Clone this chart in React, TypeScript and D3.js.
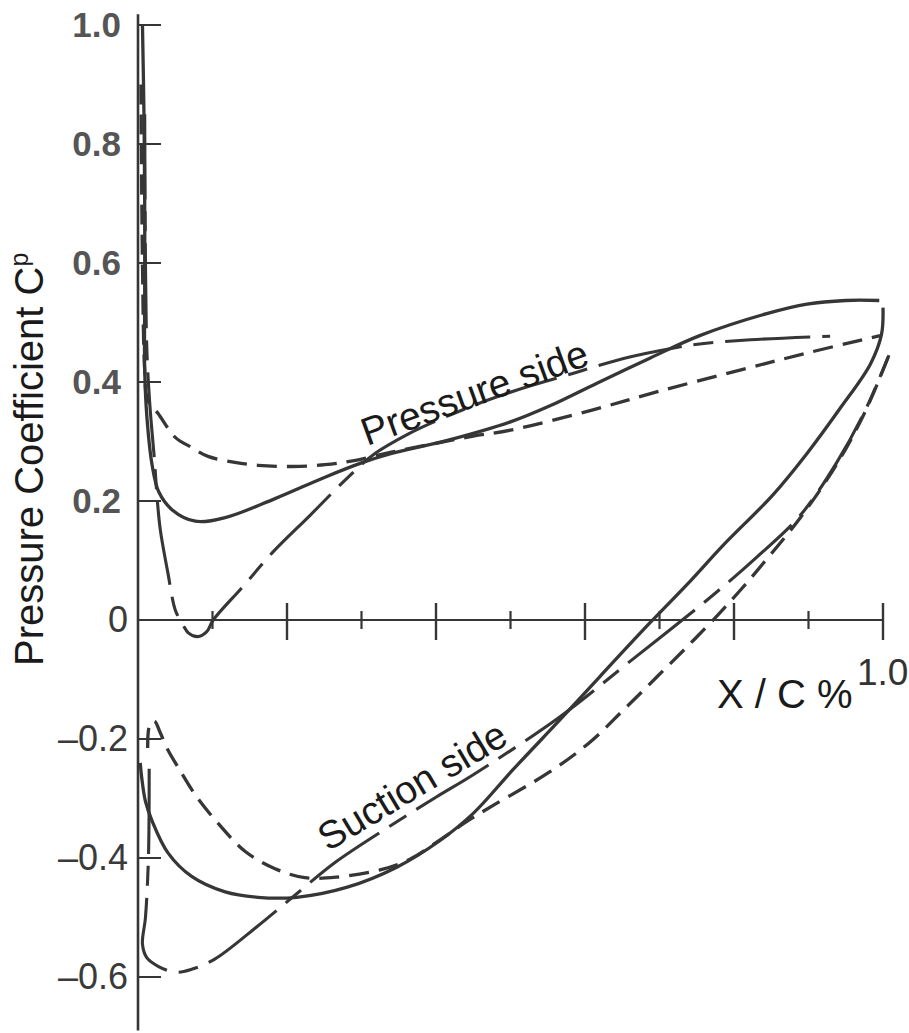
import React from "react";
import * as d3 from "d3";

type P = [number, number];

// Pressure side, design condition (solid)
const solidPressure: P[] = [
  [0.006, 1.0], [0.008, 0.85], [0.009, 0.7], [0.009, 0.55], [0.009, 0.42], [0.012, 0.34],
  [0.019, 0.26], [0.028, 0.215], [0.046, 0.185], [0.077, 0.166], [0.117, 0.172], [0.184, 0.204],
  [0.251, 0.24], [0.3, 0.264], [0.338, 0.279], [0.419, 0.303], [0.5, 0.333], [0.553, 0.36],
  [0.616, 0.398], [0.687, 0.44], [0.754, 0.478], [0.844, 0.515], [0.898, 0.531], [0.95, 0.537],
  [0.995, 0.537],
];
// Suction side, design condition (solid)
const solidSuction: P[] = [
  [0.003, -0.24], [0.005, -0.265], [0.01, -0.305], [0.019, -0.338], [0.04, -0.391], [0.072, -0.431],
  [0.117, -0.457], [0.161, -0.466], [0.213, -0.466], [0.281, -0.449], [0.348, -0.415], [0.405, -0.371],
  [0.45, -0.325], [0.503, -0.252], [0.57, -0.163], [0.62, -0.095], [0.687, -0.005], [0.741, 0.065],
  [0.785, 0.125], [0.852, 0.21], [0.898, 0.28], [0.942, 0.355], [0.983, 0.43], [0.998, 0.48],
  [1.0, 0.525],
];
// Short-dash condition
const shortDashPressure: P[] = [
  [0.004, 0.9], [0.006, 0.6], [0.009, 0.42], [0.013, 0.37], [0.027, 0.347], [0.05, 0.307],
  [0.072, 0.29], [0.094, 0.275], [0.13, 0.265], [0.161, 0.26], [0.207, 0.258], [0.251, 0.261],
  [0.29, 0.268], [0.34, 0.282], [0.4, 0.297], [0.45, 0.309], [0.5, 0.319], [0.607, 0.352],
  [0.701, 0.385], [0.808, 0.42], [0.899, 0.449], [0.996, 0.478],
];
const shortDashSuction: P[] = [
  [0.013, -0.215], [0.016, -0.175], [0.022, -0.17], [0.03, -0.19], [0.04, -0.218], [0.056, -0.252],
  [0.077, -0.294], [0.107, -0.341], [0.144, -0.389], [0.184, -0.418], [0.224, -0.433], [0.267, -0.432],
  [0.325, -0.42], [0.365, -0.402], [0.405, -0.37], [0.442, -0.338], [0.479, -0.31], [0.553, -0.255],
  [0.607, -0.205], [0.651, -0.152], [0.697, -0.095], [0.741, -0.04], [0.781, 0.012], [0.812, 0.055],
  [0.839, 0.095], [0.889, 0.172], [0.938, 0.262], [0.976, 0.35], [1.008, 0.445],
];
// Long-dash condition
const longDashPressure: P[] = [
  [0.009, 0.85], [0.01, 0.6], [0.012, 0.45], [0.016, 0.36], [0.022, 0.27], [0.026, 0.2],
  [0.03, 0.151], [0.04, 0.08], [0.05, 0.017], [0.059, -0.005], [0.068, -0.022], [0.08, -0.028],
  [0.092, -0.02], [0.101, 0.0], [0.14, 0.055], [0.181, 0.114], [0.231, 0.176], [0.278, 0.235],
  [0.315, 0.277], [0.365, 0.314], [0.401, 0.335], [0.466, 0.368], [0.53, 0.395], [0.572, 0.41],
  [0.611, 0.425], [0.66, 0.442], [0.714, 0.456], [0.754, 0.464], [0.822, 0.471], [0.929, 0.477],
];
const longDashSuction: P[] = [
  [0.015, -0.25], [0.014, -0.4], [0.01, -0.5], [0.006, -0.545], [0.012, -0.568], [0.027, -0.582],
  [0.05, -0.592], [0.072, -0.587], [0.103, -0.57], [0.16, -0.515], [0.215, -0.458], [0.264, -0.408],
  [0.34, -0.345], [0.401, -0.297], [0.45, -0.26], [0.566, -0.163], [0.66, -0.07], [0.772, 0.042],
  [0.831, 0.106], [0.889, 0.176], [0.938, 0.265], [0.976, 0.352], [1.008, 0.445],
];

const yTickValues = [1.0, 0.8, 0.6, 0.4, 0.2, 0, -0.2, -0.4, -0.6];
const yTickLabels = ["1.0", "0.8", "0.6", "0.4", "0.2", "0", "\u20130.2", "\u20130.4", "\u20130.6"];
const xMajorTicks = [0.2, 0.4, 0.6, 0.8, 1.0];
const xMinorTicks = [0.1, 0.3, 0.5, 0.7, 0.9];

const FONT = "'Liberation Sans', Arial, Helvetica, sans-serif";
const INK = "#363636";

export default function App() {
  const W = 909, H = 1033;
  const x = d3.scaleLinear().domain([0, 1]).range([138, 883]);
  const y = d3.scaleLinear().domain([-0.6, 1.0]).range([977, 25]);
  const line = d3
    .line<P>()
    .x((d) => x(d[0]))
    .y((d) => y(d[1]))
    .curve(d3.curveCatmullRom.alpha(0.5));
  const y0 = y(0);

  return (
    <svg
      width={W}
      height={H}
      style={{ position: "absolute", left: 0, top: 0, background: "#fff" }}
      fontFamily={FONT}
    >
      <rect width={W} height={H} fill="#fff" />
      {/* axes */}
      <line x1={x(0)} x2={x(0)} y1={y(1.018)} y2={y(-0.69)} stroke={INK} strokeWidth={2.6} />
      <line x1={x(0)} x2={x(1)} y1={y0} y2={y0} stroke={INK} strokeWidth={2.2} />
      {yTickValues.filter((v) => v !== 0).map((v) => (
        <line key={"yt" + v} x1={x(0)} x2={x(0) + 23} y1={y(v)} y2={y(v)} stroke={INK} strokeWidth={2} />
      ))}
      {xMajorTicks.map((v) => (
        <line key={"xM" + v} x1={x(v)} x2={x(v)} y1={y0 - 17} y2={y0 + 20} stroke={INK} strokeWidth={2.4} />
      ))}
      {xMinorTicks.map((v) => (
        <line key={"xm" + v} x1={x(v)} x2={x(v)} y1={y0 - 9} y2={y0 + 9} stroke={INK} strokeWidth={2.2} />
      ))}
      {/* y tick labels */}
      {yTickValues.map((v, i) => (
        <text
          key={"yl" + v}
          x={v > 0 ? 121 : 128}
          y={y(v) + 12}
          textAnchor="end"
          fontSize={v > 0 ? 35 : 36}
          fontWeight={v > 0 ? 700 : 400}
          fill={v > 0 ? "#555" : "#3a3a3a"}
        >
          {yTickLabels[i]}
        </text>
      ))}
      {/* curves */}
      <path d={line(solidPressure) || ""} fill="none" stroke={INK} strokeWidth={3.3} />
      <path d={line(solidSuction) || ""} fill="none" stroke={INK} strokeWidth={3.3} />
      <path d={line(shortDashPressure) || ""} fill="none" stroke={INK} strokeWidth={3.3} strokeDasharray="20,10" />
      <path d={line(shortDashSuction) || ""} fill="none" stroke={INK} strokeWidth={3.3} strokeDasharray="20,10" />
      <path d={line(longDashPressure) || ""} fill="none" stroke={INK} strokeWidth={3.1} strokeDasharray="85,12,20,12" />
      <path d={line(longDashSuction) || ""} fill="none" stroke={INK} strokeWidth={3.1} strokeDasharray="85,12,20,12" />
      {/* annotations */}
      <text transform="translate(367,446) rotate(-20)" fontSize={39} fill="#1a1a1a">
        Pressure side
      </text>
      <text transform="translate(328,852) rotate(-31)" fontSize={39} fill="#1a1a1a">
        Suction side
      </text>
      <text x={717} y={708} fontSize={40} fill="#1a1a1a">
        X / C %
      </text>
      <text x={857} y={685} fontSize={37} fill="#333">
        1.0
      </text>
      <text transform="translate(43,666) rotate(-90)" fontSize={40} fill="#1a1a1a">
        Pressure Coefficient C
        <tspan fontSize={25} dy={-15}>p</tspan>
      </text>
    </svg>
  );
}
